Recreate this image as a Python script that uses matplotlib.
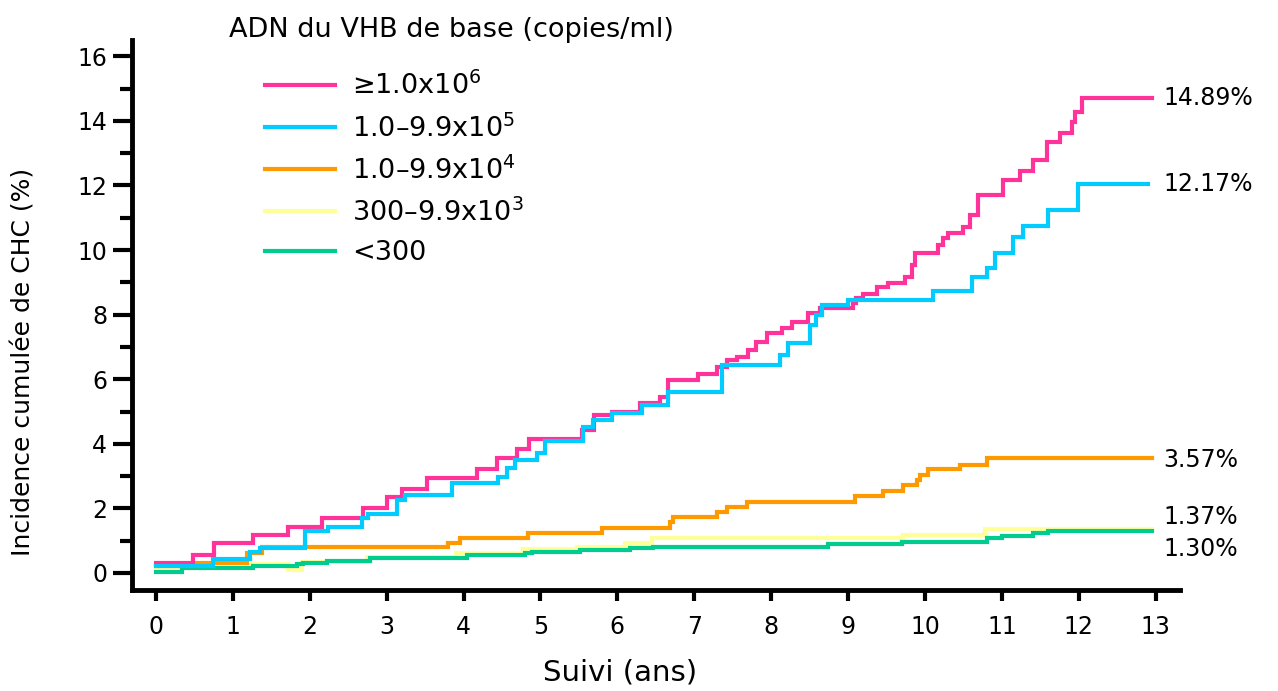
import matplotlib
matplotlib.use("Agg")
import matplotlib.pyplot as plt

# cumulative incidence curves (years, %)
t_high = [0.0, 0.48, 0.75, 1.26, 1.72, 2.16, 2.69, 3.0, 3.2, 3.52, 4.17, 4.43, 4.7, 4.85,
          5.54, 5.7, 5.93, 6.29, 6.55, 6.66, 7.05, 7.3, 7.42, 7.55, 7.7, 7.8, 7.95, 8.14,
          8.27, 8.48, 8.63, 9.06, 9.1, 9.2, 9.37, 9.52, 9.74, 9.83, 9.87, 10.17, 10.23,
          10.3, 10.49, 10.58, 10.69, 11.01, 11.23, 11.4, 11.58, 11.75, 11.91, 11.95, 12.04, 12.95]
v_high = [0.31, 0.56, 0.93, 1.18, 1.43, 1.70, 2.01, 2.36, 2.6, 2.94, 3.22, 3.56, 3.84, 4.15,
          4.43, 4.89, 5.0, 5.26, 5.45, 5.97, 6.16, 6.38, 6.6, 6.7, 6.9, 7.15, 7.43, 7.6,
          7.77, 8.05, 8.2, 8.35, 8.5, 8.63, 8.85, 8.98, 9.16, 9.54, 9.9, 10.15, 10.37,
          10.53, 10.7, 11.08, 11.7, 12.17, 12.44, 12.8, 13.34, 13.62, 13.96, 14.27, 14.7, 14.7]

t_e5 = [0.0, 0.74, 1.22, 1.35, 1.94, 2.24, 2.68, 2.76, 3.13, 3.24, 3.85, 4.45, 4.56, 4.67,
        4.95, 5.06, 5.55, 5.68, 5.93, 6.32, 6.66, 7.36, 8.11, 8.22, 8.5, 8.58, 8.66, 9.0,
        10.1, 10.61, 10.8, 10.91, 11.15, 11.28, 11.6, 11.99, 12.9]
v_e5 = [0.22, 0.43, 0.65, 0.78, 1.3, 1.43, 1.7, 1.83, 2.26, 2.41, 2.79, 2.97, 3.25, 3.5,
        3.7, 4.1, 4.52, 4.74, 4.95, 5.2, 5.6, 6.44, 6.75, 7.12, 7.68, 8.0, 8.3, 8.45,
        8.73, 9.16, 9.44, 9.9, 10.4, 10.74, 11.24, 12.05, 12.05]

t_e4 = [0.0, 0.53, 1.18, 1.38, 3.8, 3.95, 4.84, 5.8, 6.68, 6.72, 7.3, 7.42, 7.68, 9.09,
        9.46, 9.71, 9.9, 9.94, 10.04, 10.46, 10.8, 12.95]
v_e4 = [0.22, 0.31, 0.62, 0.8, 0.93, 1.08, 1.24, 1.39, 1.58, 1.73, 1.89, 2.04, 2.2, 2.38,
        2.55, 2.72, 2.88, 3.03, 3.22, 3.34, 3.56, 3.56]

t_e3 = [0.0, 0.5, 1.72, 1.9, 2.75, 3.9, 4.77, 5.47, 6.1, 6.45, 9.71, 10.78, 12.95]
v_e3 = [0.2, 0.28, 0.08, 0.34, 0.5, 0.62, 0.74, 0.8, 0.93, 1.08, 1.18, 1.37, 1.37]

t_low = [0.0, 0.34, 1.26, 1.83, 1.91, 2.22, 2.78, 4.04, 4.8, 4.89, 5.51, 6.16, 6.46, 8.74,
         9.7, 10.8, 11.0, 11.4, 11.6, 12.95]
v_low = [0.03, 0.15, 0.22, 0.28, 0.31, 0.37, 0.46, 0.56, 0.62, 0.65, 0.71, 0.77, 0.8, 0.9,
         0.96, 1.08, 1.15, 1.24, 1.30, 1.30]

legend_labels = [r"≥1.0x10$^6$", r"1.0–9.9x10$^5$", r"1.0–9.9x10$^4$",
                 r"300–9.9x10$^3$", "<300"]
end_labels = ["14.89%", "12.17%", "3.57%", "1.37%", "1.30%"]
end_label_y = [14.72, 12.05, 3.5, 1.72, 0.74]

colors = ["#FF3399", "#00CCFF", "#FF9900", "#FFFF99", "#00CC8F"]

plt.rcParams['font.family'] = ['DejaVu Sans']
fig = plt.figure(figsize=(12.78, 6.91), dpi=100)
ax = fig.add_axes([0.1033, 0.146, 0.8197, 0.796])

series = [(t_high, v_high), (t_e5, v_e5), (t_e4, v_e4), (t_e3, v_e3), (t_low, v_low)]
order = [3, 4, 2, 0, 1]
lines = {}
for i in order:
    t, v = series[i]
    ln, = ax.step(t, v, where='post', color=colors[i], lw=3, solid_joinstyle='miter')
    lines[i] = ln

ax.set_xlim(-0.31, 13.31)
ax.set_ylim(-0.53, 16.5)
ax.set_xticks(range(0, 14))
ax.set_yticks(range(0, 17, 2))
ax.set_yticks(range(1, 17, 2), minor=True)
ax.tick_params(axis='both', which='major', width=3, labelsize=17)
ax.tick_params(axis='y', which='major', length=14, pad=4)
ax.tick_params(axis='y', which='minor', length=9, width=3)
ax.tick_params(axis='x', which='major', length=8, pad=10)
for s in ['top', 'right']:
    ax.spines[s].set_visible(False)
for s in ['left', 'bottom']:
    ax.spines[s].set_linewidth(3.5)

ax.set_xlabel("Suivi (ans)", fontsize=21)
ax.xaxis.set_label_coords(0.466, -0.125)
ax.set_ylabel("Incidence cumulée de CHC (%)", fontsize=18)
ax.yaxis.set_label_coords(-0.092, 0.415)

for txt, y in zip(end_labels, end_label_y):
    ax.text(13.1, y, txt, fontsize=17, va='center', ha='left', clip_on=False)

fig.text(229 / 1278, 1 - 30 / 691, "ADN du VHB de base (copies/ml)", fontsize=19.5,
         ha='left', va='center')
ax.legend([lines[i] for i in range(5)], legend_labels, loc='upper left',
          bbox_to_anchor=(0.127, 0.942), frameon=False, fontsize=19.5,
          handlelength=2.6, handletextpad=0.62, labelspacing=0.5, borderaxespad=0,
          borderpad=0)

fig.savefig("out.png", dpi=100)
